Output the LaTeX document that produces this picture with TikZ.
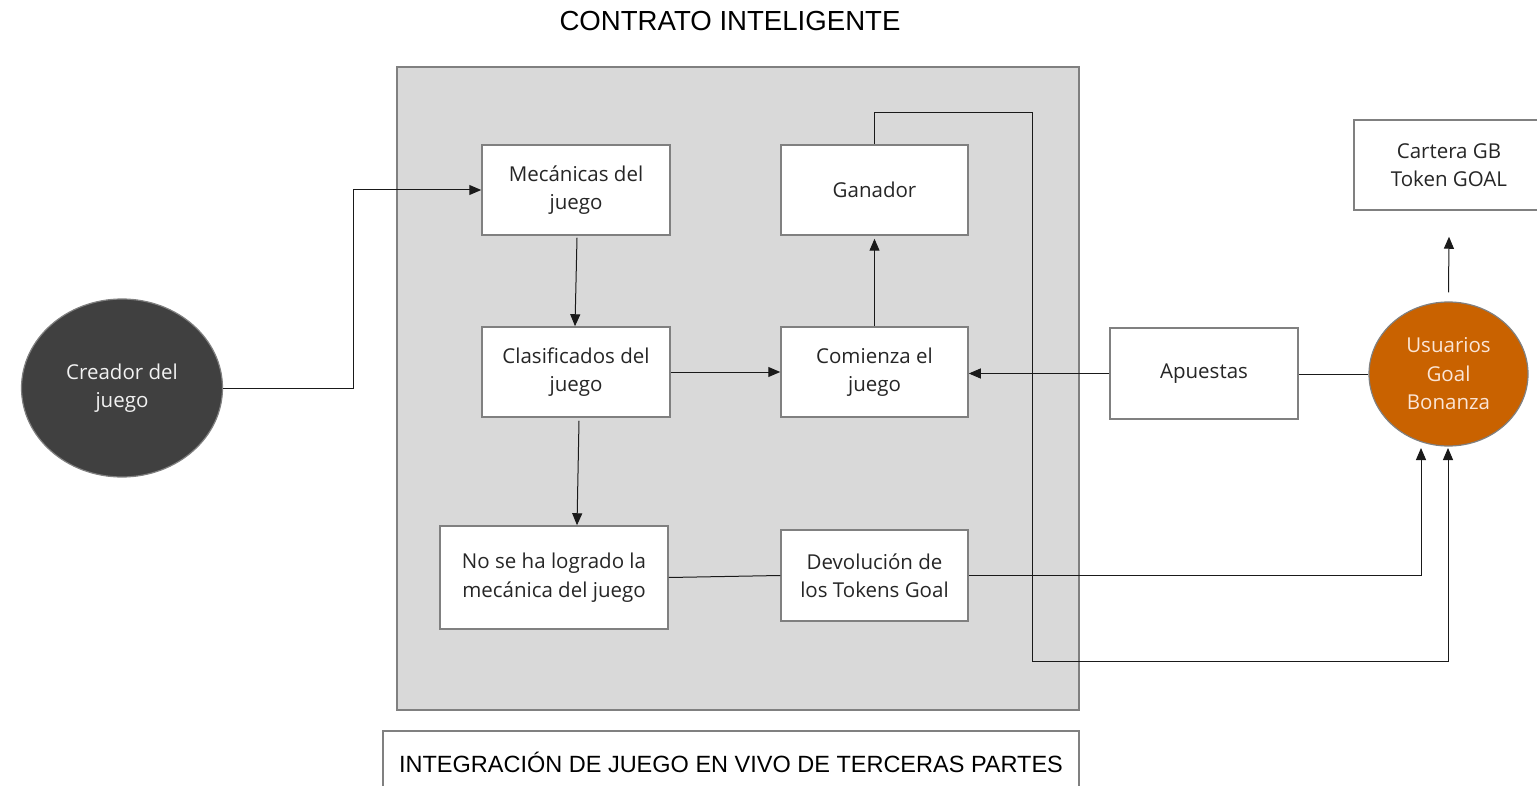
\documentclass[tikz,border=0pt]{standalone}
\usepackage{fontspec}
\setmainfont{Open Sans}
\newfontfamily\arialfont{Liberation Sans}
\usetikzlibrary{shapes.geometric,arrows.meta}
\definecolor{panel}{HTML}{D9D9D9}
\definecolor{edge}{HTML}{808080}
\definecolor{wire}{HTML}{1A1A1A}
\definecolor{txt}{HTML}{262626}
\definecolor{dark}{HTML}{404040}
\definecolor{orng}{HTML}{C96200}
\definecolor{peach}{HTML}{FBE5D6}
\tikzset{
  box/.style={draw=edge, line width=1.5pt, fill=white, inner sep=0pt, align=center, text=txt,
    font=\fontsize{20.5}{28.5}\selectfont},
  oval/.style={ellipse, draw=edge, line width=1.2pt, inner sep=0pt, align=center,
    font=\fontsize{20.5}{28.5}\selectfont},
  conn/.style={draw=wire, line width=1pt, -{Triangle[length=12pt,width=10pt]}},
  plain/.style={draw=wire, line width=1pt},
}
\begin{document}
\begin{tikzpicture}[x=1pt,y=-1pt]
\useasboundingbox (0,0) rectangle (1537,786);
% panel
\node[draw=edge, line width=1.5pt, fill=panel, minimum width=682pt, minimum height=643pt, inner sep=0pt] (panel) at (738,388.5) {};
\node[font=\arialfont\fontsize{27.6}{30}\selectfont, text=black] (title) at (730,21) {CONTRATO INTELIGENTE};
\node[draw=edge, line width=1.5pt, fill=white, minimum width=696pt, minimum height=80pt, inner sep=0pt] (integ) at (731,771) {};
\node[font=\arialfont\fontsize{23.5}{28}\selectfont, text=black] (integt) at (731,762) {INTEGRACIÓN DE JUEGO EN VIVO DE TERCERAS PARTES};
% boxes
\node[box, minimum width=188pt, minimum height=90pt] (mec) at (576,190) {Mecánicas del\\juego};
\node[box, minimum width=187pt, minimum height=90pt] (gan) at (874.5,190) {Ganador};
\node[box, minimum width=188pt, minimum height=90pt] (cla) at (576,372) {Clasificados del\\juego};
\node[box, minimum width=187pt, minimum height=90pt] (com) at (874.5,372) {Comienza el\\juego};
\node[box, minimum width=228pt, minimum height=103pt] (nose) at (554,577.5) {No se ha logrado la\\mecánica del juego};
\node[box, minimum width=187pt, minimum height=91pt] (dev) at (874.5,575.5) {Devolución de\\los Tokens Goal};
\node[box, minimum width=188pt, minimum height=91pt] (apu) at (1204,373.5) {Apuestas};
\node[box, minimum width=190pt, minimum height=90pt] (car) at (1449,165) {Cartera GB\\Token GOAL};
% ellipses
\node[oval, fill=dark, text=white!95!black, minimum width=201pt, minimum height=178pt] (cre) at (122,388) {Creador del\\juego};
\node[oval, fill=orng, text=peach, minimum width=159pt, minimum height=144pt] (usu) at (1448.5,374) {Usuarios\\Goal\\Bonanza};
% connector coordinates
\coordinate (u1) at (1421,448);
\coordinate (u2) at (1448,448);
% connectors
\draw[conn] (cre.east) -| (353,190) -- (mec.west);
\draw[conn] ([xshift=1pt,yshift=-2pt]mec.south) -- ([xshift=-1pt]cla.north);
\draw[conn] (cla.east) -- (com.west);
\draw[conn] (com.north) -- ([yshift=-3pt]gan.south);
\draw[conn] (gan.north) |- (1032,113) |- (1448,661) -- (u2);
\draw[conn] ([xshift=3pt,yshift=-3pt]cla.south) -- ([xshift=23pt]nose.north);
\draw[plain] (nose.east) -- (dev.west);
\draw[conn] (dev.east) -| (u1);
\draw[plain] (usu.west) -- (usu.west -| apu.east);
\draw[conn] (apu.west) -- (apu.west -| com.east);
\draw[conn] ([yshift=9pt]usu.north) -- ([yshift=-26pt]car.south);
\end{tikzpicture}
\end{document}
